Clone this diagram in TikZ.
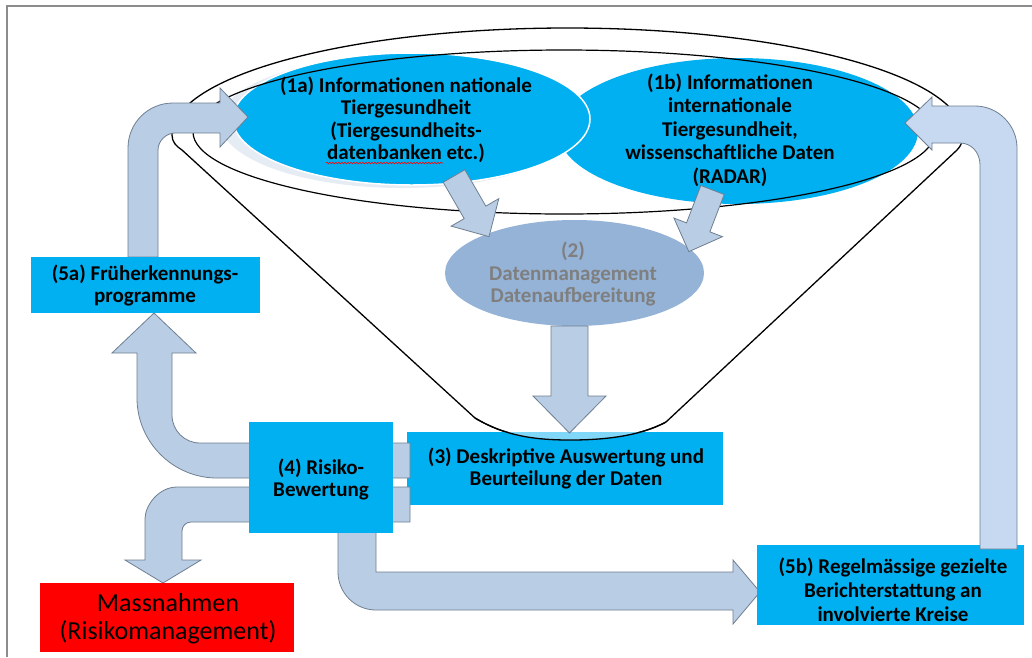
\documentclass[tikz,border=0pt]{standalone}
\usepackage{fontspec}
\setmainfont{Carlito}
\usetikzlibrary{shapes.geometric,decorations.pathmorphing}
\definecolor{cblue}{HTML}{00B0F0}
\definecolor{arrfill}{HTML}{B9CDE5}
\definecolor{arrfillb}{HTML}{C6D9F1}
\definecolor{arrline}{HTML}{6F7F92}
\definecolor{dmfill}{HTML}{95B3D7}
\definecolor{dmtext}{HTML}{7F7F7F}
\definecolor{pale}{HTML}{E6ECF4}
\definecolor{framegray}{HTML}{8C8C8C}
\tikzset{
  bluebox/.style={fill=cblue, draw=none, inner sep=0pt},
  blockarrow/.style={fill=arrfill, draw=arrline, line width=0.8pt, line join=miter},
  lbl/.style={font=\bfseries\fontsize{21pt}{22.5pt}\selectfont, align=center, text=black, inner sep=0pt},
  funnelline/.style={draw=black, line width=1.3pt},
  ell/.style={ellipse, inner sep=0pt, draw=none}
}
\begin{document}
\begin{tikzpicture}[x=1pt,y=-1pt]
\useasboundingbox (0,0) rectangle (1032,657);
\fill[white] (0,0) rectangle (1032,657);
% frame
\draw[framegray, line width=1.8pt] (7,657) -- (7,6) -- (1032,6);

% funnel outline
\draw[funnelline] (172,135) .. controls (172,142) and (176,146) .. (182,150)
  -- (475,418) .. controls (505,436) and (535,440) .. (570,440)
  .. controls (605,440) and (640,436) .. (666,422)
  -- (957,150) .. controls (961,146) and (963,141) .. (963,135)
  arc[start angle=0, end angle=180, x radius=395.5pt, y radius=107pt];

% glow and information ellipses
\fill[pale] (402,122) ellipse [x radius=182pt, y radius=66pt];
\node[ell, fill=cblue, minimum width=360pt, minimum height=146pt] (e1b) at (738,131) {};
\node[ell, fill=cblue, draw=white, line width=1.5pt, minimum width=357pt, minimum height=132pt] (e1a) at (411.5,119) {};

% inner rim
\draw[funnelline, line width=1.2pt] (564,132) ellipse [x radius=371pt, y radius=82pt];

% data management ellipse
\node[ell, fill=dmfill, minimum width=259pt, minimum height=106pt] (e2) at (574.5,273) {};

% box 3
\node[bluebox, minimum width=316pt, minimum height=73pt] (b3) at (565,468.5) {};
\begin{scope}
  \clip (407,432) rectangle (723,446);
  \fill[cblue!50] (475,418) .. controls (505,436) and (535,440) .. (570,440)
    .. controls (605,440) and (640,436) .. (666,422) -- cycle;
\end{scope}
\draw[funnelline] (475,418) .. controls (505,436) and (535,440) .. (570,440)
  .. controls (605,440) and (640,436) .. (666,422);

% arrows between ellipses
\draw[blockarrow, shift={(454,176)}, rotate=-60]
  (0,-12.5) -- (42,-12.5) -- (42,-27.5) -- (70,0) -- (42,27.5) -- (42,12.5) -- (0,12.5) -- cycle;
\draw[blockarrow, shift={(712.5,190)}, rotate=-111]
  (0,-12.5) -- (40,-12.5) -- (40,-26) -- (66,0) -- (40,26) -- (40,12.5) -- (0,12.5) -- cycle;
\draw[blockarrow] (551,326) -- (551,396) -- (533,396) -- (569.5,433) -- (606,396) -- (588,396) -- (588,326) -- cycle;

% arrow 5a -> 1a
\draw[blockarrow] (128,257) -- (128,148) .. controls (128,123) and (148,103) .. (173,103)
  -- (220,103) -- (220,88) -- (248,117) -- (220,147) -- (220,133) -- (175,133)
  .. controls (166,133) and (158,141) .. (158,150) -- (158,257) -- cycle;

% arrows leaving box 4
\draw[blockarrow] (410,443) -- (200,443) .. controls (184.5,443) and (172,430.5) .. (172,415)
  -- (172,353) -- (196,353) -- (154,313) -- (112,353) -- (137,353) -- (137,398)
  .. controls (137,442) and (173,478) .. (217,478) -- (410,478) -- cycle;
\draw[blockarrow] (410,487) -- (177,487) .. controls (159,487) and (145,505) .. (145,519)
  -- (145,560) -- (125,560) -- (163,583) -- (201,560) -- (182,560) -- (182,531)
  .. controls (182,526) and (186,522) .. (191,522) -- (410,522) -- cycle;
\draw[blockarrow] (338,530) -- (338,572) .. controls (338,593) and (355,610) .. (376,610)
  -- (733,610) -- (733,624) -- (760,592) -- (733,560) -- (733,572) -- (376,572) -- (376,530) -- cycle;

% boxes
\node[bluebox, minimum width=144pt, minimum height=111pt] (b4) at (321,477.5) {};
\node[bluebox, minimum width=229pt, minimum height=56pt] (b5a) at (145.5,285) {};
\node[fill=red, draw=none, inner sep=0pt, minimum width=254pt, minimum height=69pt] (bm) at (167,617.5) {};
\node[bluebox, minimum width=267pt, minimum height=80pt] (b5b) at (890.5,585) {};

% arrow 5b -> 1b
\draw[blockarrow, fill=arrfillb] (980,549) -- (980,165) .. controls (980,152) and (971,143) .. (960,143)
  -- (932,143) -- (932,150) -- (905,123) -- (932,97) -- (932,106) -- (975,106)
  .. controls (998,106) and (1017,125) .. (1017,148) -- (1017,549) -- cycle;

% texts
\node[lbl] (t1a) at (406,120) {(1a) Informationen nationale\\Tiergesundheit\\(Tiergesundheits-\\datenbanken etc.)};
\draw[red, line width=0.6pt, decorate, decoration={snake, amplitude=0.8pt, segment length=3pt}] (326,163) -- (443,163);
\node[lbl, font=\bfseries\fontsize{21pt}{23.5pt}\selectfont] (t1b) at (730,130) {(1b) Informationen\\internationale\\Tiergesundheit,\\wissenschaftliche Daten\\(RADAR)};
\node[lbl, text=dmtext] (t2) at (573,274) {(2)\\Datenmanagement\\Datenaufbereitung};
\node[lbl] (t5a) at (145,285.5) {(5a) Früherkennungs-\\programme};
\node[lbl] (t4) at (321,479.5) {(4) Risiko-\\Bewertung};
\node[lbl] (t3) at (566,468.5) {(3) Deskriptive Auswertung und\\Beurteilung der Daten};
\node[lbl, font=\fontsize{26pt}{28pt}\selectfont] (tm) at (168,619) {Massnahmen\\(Risikomanagement)};
\node[lbl, font=\bfseries\fontsize{21pt}{24pt}\selectfont] (t5b) at (893,590) {(5b) Regelmässige gezielte\\Berichterstattung an\\involvierte Kreise};
\end{tikzpicture}
\end{document}
